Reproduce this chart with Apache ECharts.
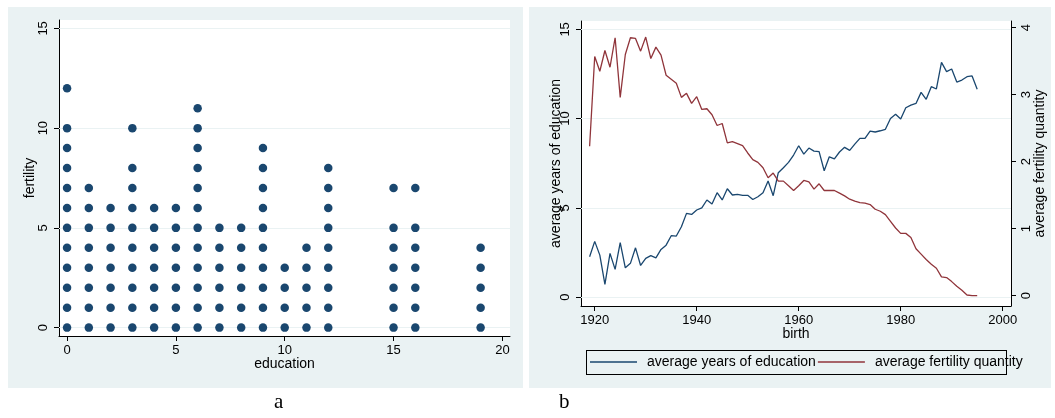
<!DOCTYPE html>
<html>
<head>
<meta charset="utf-8">
<script src="https://cdn.jsdelivr.net/npm/echarts@6.0.0/dist/echarts.min.js"></script>
<style>
  body { margin: 0; background: #fff; }
  .page { position: relative; width: 1055px; height: 418px; }
  .panel { position: absolute; top: 7px; height: 381px; background: #eaf2f3; }
  .legend-box { position: absolute; left: 586px; top: 350px; width: 419px; height: 23px; border: 1px solid #000; }
  #main { position: absolute; left: 0; top: 0; width: 1055px; height: 418px; }
</style>
</head>
<body>
<div class="page">
  <div class="panel" style="left:8px;width:515px"></div>
  <div class="panel" style="left:529px;width:522px"></div>
  <div class="legend-box"></div>
  <div id="main"></div>
</div>
<script>
// panel a: education level and the fertility values observed at it
const eduLevels = [0, 1, 2, 3, 4, 5, 6, 7, 8, 9, 10, 11, 12, 15, 16, 19]
const fertilityByEdu = [
  [0, 1, 2, 3, 4, 5, 6, 7, 8, 9, 10, 12],
  [0, 1, 2, 3, 4, 5, 6, 7],
  [0, 1, 2, 3, 4, 5, 6],
  [0, 1, 2, 3, 4, 5, 6, 7, 8, 10],
  [0, 1, 2, 3, 4, 5, 6],
  [0, 1, 2, 3, 4, 5, 6],
  [0, 1, 2, 3, 4, 5, 6, 7, 8, 9, 10, 11],
  [0, 1, 2, 3, 4, 5],
  [0, 1, 2, 3, 4, 5],
  [0, 1, 2, 3, 4, 5, 6, 7, 8, 9],
  [0, 1, 2, 3],
  [0, 1, 2, 3, 4],
  [0, 1, 2, 3, 4, 5, 6, 7, 8],
  [0, 1, 2, 3, 4, 5, 7],
  [0, 1, 2, 3, 4, 5, 7],
  [0, 1, 2, 3, 4]
]

// panel b: by birth year
const birthYears = [
  1919, 1920, 1921, 1922, 1923, 1924, 1925, 1926, 1927, 1928,
  1929, 1930, 1931, 1932, 1933, 1934, 1935, 1936, 1937, 1938,
  1939, 1940, 1941, 1942, 1943, 1944, 1945, 1946, 1947, 1948,
  1949, 1950, 1951, 1952, 1953, 1954, 1955, 1956, 1957, 1958,
  1959, 1960, 1961, 1962, 1963, 1964, 1965, 1966, 1967, 1968,
  1969, 1970, 1971, 1972, 1973, 1974, 1975, 1976, 1977, 1978,
  1979, 1980, 1981, 1982, 1983, 1984, 1985, 1986, 1987, 1988,
  1989, 1990, 1991, 1992, 1993, 1994, 1995
]
const avgEducation = [
  2.26, 3.12, 2.35, 0.71, 2.45, 1.55, 3.05, 1.64, 1.89, 2.76,
  1.77, 2.17, 2.32, 2.2, 2.67, 2.91, 3.44, 3.42, 3.94, 4.69,
  4.63, 4.88, 5.0, 5.44, 5.21, 5.85, 5.44, 6.07, 5.72, 5.75,
  5.7, 5.7, 5.47, 5.62, 5.85, 6.5, 5.68, 6.97, 7.25, 7.55,
  7.96, 8.48, 8.01, 8.35, 8.18, 8.15, 7.08, 7.86, 7.75, 8.13,
  8.39, 8.22, 8.57, 8.89, 8.89, 9.3, 9.25, 9.32, 9.4, 10.01,
  10.24, 9.98, 10.61, 10.76, 10.85, 11.47, 11.08, 11.79, 11.66, 13.15,
  12.63, 12.78, 12.05, 12.16, 12.35, 12.39, 11.64
]
const avgFertility = [
  2.23, 3.57, 3.35, 3.66, 3.41, 3.85, 2.96, 3.6, 3.85, 3.84,
  3.65, 3.86, 3.54, 3.71, 3.59, 3.29, 3.23, 3.17, 2.96, 3.02,
  2.87, 2.97, 2.78, 2.79, 2.7, 2.54, 2.57, 2.28, 2.3, 2.27,
  2.24, 2.13, 2.03, 1.99, 1.91, 1.76, 1.83, 1.71, 1.71, 1.64,
  1.57, 1.64, 1.72, 1.7, 1.59, 1.67, 1.57, 1.57, 1.57, 1.53,
  1.49, 1.44, 1.41, 1.39, 1.38, 1.36, 1.29, 1.26, 1.21, 1.11,
  1.01, 0.93, 0.93, 0.87, 0.7, 0.62, 0.54, 0.47, 0.41, 0.28,
  0.27, 0.21, 0.14, 0.08, 0.01, 0.0, 0.0
]

// tick labels
const eduTicks = [0, 5, 10, 15, 20]
const fertTicks = [0, 5, 10, 15]
const birthTicks = [1920, 1940, 1960, 1980, 2000]
const avgEduTicks = [0, 5, 10, 15]
const avgFertTicks = [0, 1, 2, 3, 4]

const NAVY = '#1a476f'
const MAROON = '#90353b'
const GRIDLINE = '#eaf2f3'
const FONT = 'Liberation Sans'

function tickLabels(ticks, extra) {
  return Object.assign({
    customValues: ticks,
    formatter: v => String(v), // no thousands separator on years
    color: '#000',
    fontSize: 13,
    fontFamily: FONT,
    margin: 8
  }, extra)
}

function valueAxis(ticks, extra) {
  // Stata look: black axis, outward ticks, ticks/labels only at given values
  return Object.assign({
    type: 'value',
    axisLine: { show: true, onZero: false, lineStyle: { color: '#000', width: 1 } },
    axisTick: { show: true, length: 5, customValues: ticks, lineStyle: { color: '#000' } },
    axisLabel: tickLabels(ticks),
    splitLine: { show: false },
    nameLocation: 'middle',
    nameMoveOverlap: false, // names sit where Stata puts them, even over labels
    nameTextStyle: { color: '#000', fontSize: 14, fontFamily: FONT }
  }, extra)
}

function gridLines(values) {
  return {
    silent: true,
    symbol: 'none',
    z: 1,
    label: { show: false },
    lineStyle: { color: GRIDLINE, width: 1, type: 'solid' },
    data: values.map(v => ({ yAxis: v }))
  }
}

const scatterData = eduLevels.flatMap((e, i) => fertilityByEdu[i].map(f => [e, f]))

const chart = echarts.init(document.getElementById('main'))
chart.setOption({
  animation: false,
  textStyle: { fontFamily: FONT },
  grid: [
    { left: 59, top: 20, width: 451, height: 316, show: true, backgroundColor: '#fff', borderWidth: 0 },
    { left: 581, top: 21, width: 430, height: 285, show: true, backgroundColor: '#fff', borderWidth: 0 }
  ],
  xAxis: [
    valueAxis(eduTicks, { gridIndex: 0, min: -0.37, max: 20.35, name: 'education', nameGap: 21 }),
    valueAxis(birthTicks, { gridIndex: 1, min: 1917.31, max: 2001.63, name: 'birth', nameGap: 21 })
  ],
  yAxis: [
    valueAxis(fertTicks, {
      gridIndex: 0, min: -0.42, max: 15.42, name: 'fertility', nameGap: 22, nameRotate: 90,
      axisLabel: tickLabels(fertTicks, { rotate: 90, margin: 9 })
    }),
    valueAxis(avgEduTicks, {
      gridIndex: 1, position: 'left', min: -0.5, max: 15.47,
      name: 'average years of education', nameGap: 18, nameRotate: 90,
      axisLabel: tickLabels(avgEduTicks, { rotate: 90, margin: 9 })
    }),
    valueAxis(avgFertTicks, {
      gridIndex: 1, position: 'right', min: -0.154, max: 4.10,
      name: 'average fertility quantity', nameGap: 22, nameRotate: 90,
      axisLabel: tickLabels(avgFertTicks, { rotate: 90, margin: 9 })
    })
  ],
  legend: {
    left: 590,
    top: 355,
    icon: 'rect',
    itemWidth: 47,
    itemHeight: 1.4,
    itemGap: 2,
    padding: 0,
    textStyle: { color: '#000', fontSize: 14, fontFamily: FONT, padding: [0, 0, 0, 5], lineHeight: 14 },
    data: ['average years of education', 'average fertility quantity']
  },
  series: [
    {
      name: 'fertility',
      type: 'scatter',
      xAxisIndex: 0,
      yAxisIndex: 0,
      z: 3,
      symbolSize: 8.5,
      itemStyle: { color: NAVY, opacity: 1 },
      data: scatterData,
      markLine: gridLines(fertTicks)
    },
    {
      name: 'average years of education',
      type: 'line',
      xAxisIndex: 1,
      yAxisIndex: 1,
      z: 3,
      symbol: 'none',
      lineStyle: { color: NAVY, width: 1.3 },
      itemStyle: { color: NAVY },
      data: birthYears.map((y, i) => [y, avgEducation[i]]),
      markLine: gridLines(avgEduTicks)
    },
    {
      name: 'average fertility quantity',
      type: 'line',
      xAxisIndex: 1,
      yAxisIndex: 2,
      z: 3,
      symbol: 'none',
      lineStyle: { color: MAROON, width: 1.3 },
      itemStyle: { color: MAROON },
      data: birthYears.map((y, i) => [y, avgFertility[i]])
    }
  ],
  graphic: [
    { type: 'text', left: 274, top: 392, style: { text: 'a', fontSize: 21, fontFamily: 'Liberation Serif', fill: '#000' } },
    { type: 'text', left: 559, top: 392, style: { text: 'b', fontSize: 21, fontFamily: 'Liberation Serif', fill: '#000' } }
  ]
})
</script>
</body>
</html>
